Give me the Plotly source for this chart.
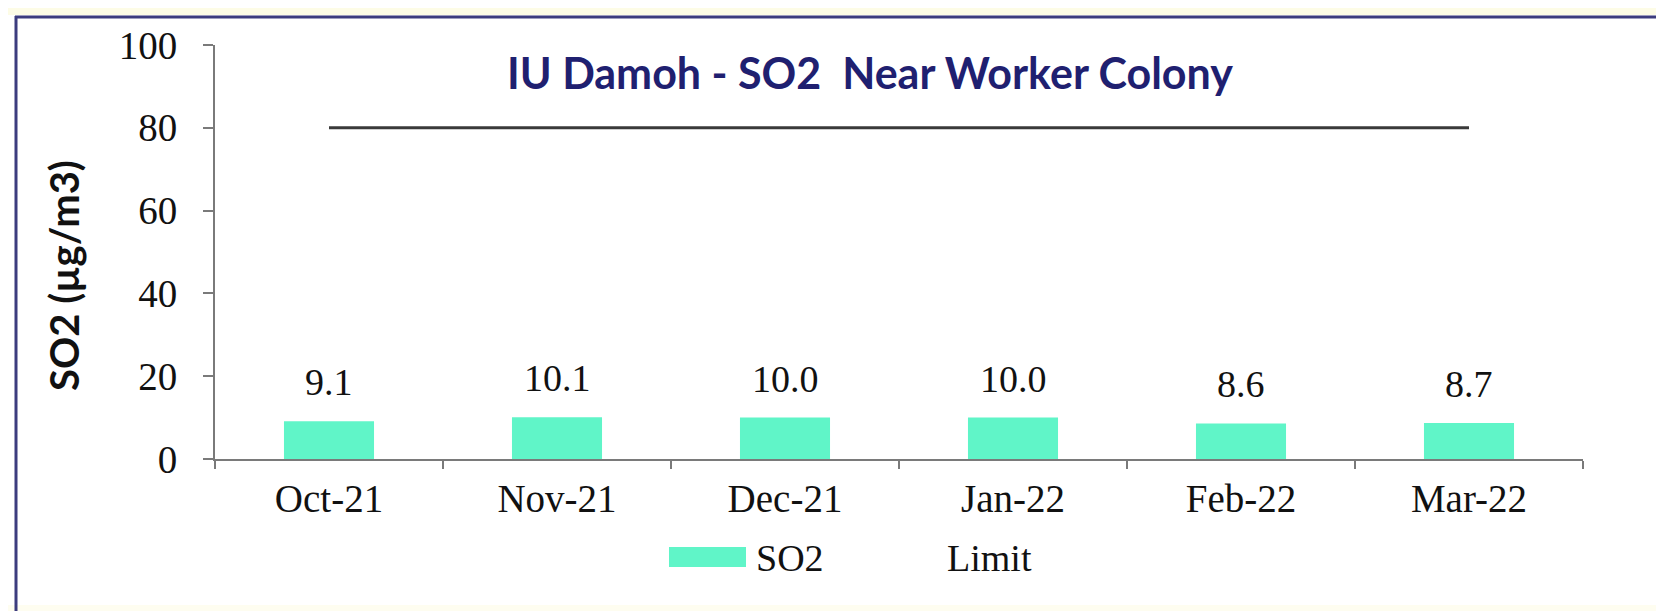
import plotly.graph_objects as go

# ---- data ----
months = ["Oct-21", "Nov-21", "Dec-21", "Jan-22", "Feb-22", "Mar-22"]
so2 = [9.1, 10.1, 10.0, 10.0, 8.6, 8.7]
limit = [80, 80, 80, 80, 80, 80]
y_ticks = [0, 20, 40, 60, 80, 100]
title_text = "IU Damoh - SO2\u00a0 Near Worker Colony"
y_title = "SO2 (µg/m3)"

W, H = 1664, 611
L, R, T, B = 207, 89, 37, 160
PW, PH = W - L - R, H - T - B

def px(x):
    return (x - L) / PW

def py(y):
    return (H - B - y) / PH

SERIF = "Liberation Serif"
SANS = "Lato"
BAR = "#60F5C8"

fig = go.Figure()
fig.add_trace(go.Bar(x=months, y=so2, marker=dict(color=BAR, line=dict(width=0)),
                     width=0.395, showlegend=False, hoverinfo="x+y"))
fig.add_trace(go.Scatter(x=months, y=limit, mode="lines",
                         line=dict(color="#3a3a3a", width=3), showlegend=False))

annotations = []
for m, v in zip(months, so2):
    annotations.append(dict(x=m, y=v, xref="x", yref="y", text=f"{v:.1f}",
                            showarrow=False, yanchor="bottom", yshift=16,
                            font=dict(family=SERIF, size=38, color="#111111")))
# title
annotations.append(dict(x=px(862), y=py(65), xref="paper", yref="paper", text=f"<b>{title_text}</b>",
                        showarrow=False, xanchor="center", yanchor="middle",
                        font=dict(family=SANS, size=43, color="#1f2070")))
# y-axis title
annotations.append(dict(x=px(56), y=py(268), xref="paper", yref="paper", text=f"<b>{y_title}</b>",
                        showarrow=False, textangle=-90, xanchor="center", yanchor="middle",
                        font=dict(family=SANS, size=40, color="#111111")))
# legend
annotations.append(dict(x=px(746), y=py(550), xref="paper", yref="paper", text="SO2",
                        showarrow=False, xanchor="left", yanchor="middle",
                        font=dict(family=SERIF, size=38, color="#111111")))
annotations.append(dict(x=px(937), y=py(550), xref="paper", yref="paper", text="Limit",
                        showarrow=False, xanchor="left", yanchor="middle",
                        font=dict(family=SERIF, size=38, color="#111111")))

shapes = [
    # legend swatch
    dict(type="rect", xref="paper", yref="paper", x0=px(661), x1=px(738), y0=py(559), y1=py(539),
         fillcolor=BAR, line=dict(width=0)),
    # top / bottom strips
    dict(type="rect", xref="paper", yref="paper", x0=px(0), x1=px(W), y0=py(0), y1=py(7),
         fillcolor="#fdfce6", line=dict(width=0), layer="below"),
    dict(type="rect", xref="paper", yref="paper", x0=px(0), x1=px(W), y0=py(597), y1=py(H),
         fillcolor="#fefdf0", line=dict(width=0), layer="below"),
    # border lines
    dict(type="line", xref="paper", yref="paper", x0=px(7), x1=px(W), y0=py(9), y1=py(9),
         line=dict(color="#3c3c7e", width=3)),
    dict(type="line", xref="paper", yref="paper", x0=px(8), x1=px(8), y0=py(8), y1=py(H),
         line=dict(color="#3c3c7e", width=3)),
]

fig.update_layout(
    width=W, height=H,
    margin=dict(l=L, r=R, t=T, b=B, pad=0),
    paper_bgcolor="white", plot_bgcolor="white",
    showlegend=False,
    annotations=annotations, shapes=shapes,
)
fig.update_xaxes(type="category", range=[-0.5, 5.5], showline=True, linecolor="#7a7a7a", linewidth=2,
                 ticks="outside", tickson="boundaries", ticklen=8, tickcolor="#7a7a7a", tickwidth=2,
                 showgrid=False, zeroline=False, ticklabelstandoff=4,
                 tickfont=dict(family=SERIF, size=39, color="#111111"))
fig.update_yaxes(range=[0, 100], tickvals=y_ticks, showline=True, linecolor="#7a7a7a", linewidth=2,
                 ticks="outside", ticklen=10, tickcolor="#7a7a7a", tickwidth=2,
                 showgrid=False, zeroline=False, ticklabelstandoff=18,
                 tickfont=dict(family=SERIF, size=39, color="#111111"))

fig.write_html("out.html")
